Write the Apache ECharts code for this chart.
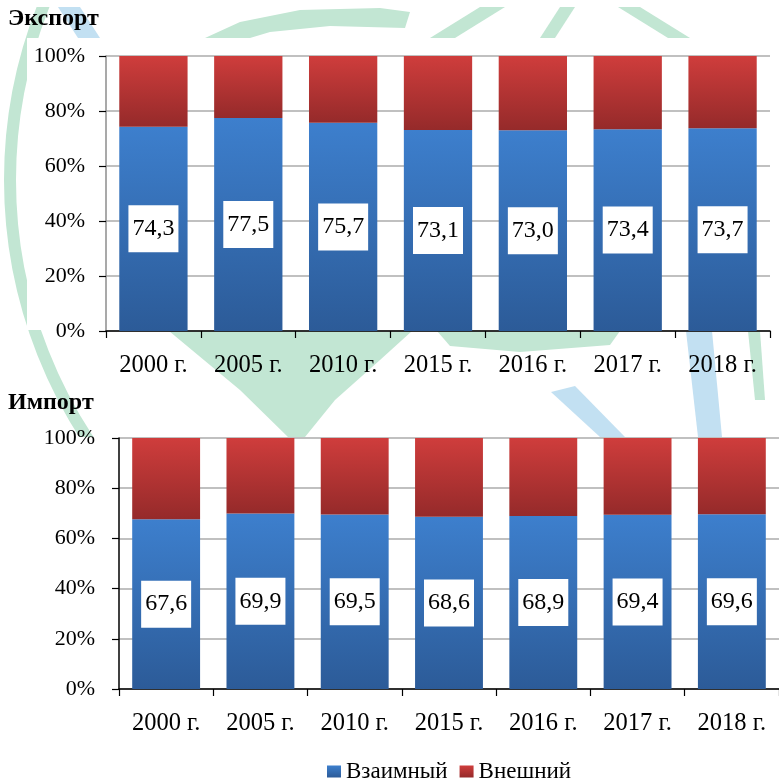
<!DOCTYPE html>
<html>
<head>
<meta charset="utf-8">
<script src="https://cdn.jsdelivr.net/npm/echarts@6/dist/echarts.min.js"></script>
<style>
  html, body { margin: 0; padding: 0; background: #ffffff; }
  #chart { width: 779px; height: 779px; }
</style>
</head>
<body>
<div id="chart"></div>
<script>
// Годы
const categories = ['2000 г.', '2005 г.', '2010 г.', '2015 г.', '2016 г.', '2017 г.', '2018 г.'];

// Экспорт: доля взаимной и внешней торговли, %
const exportMutual   = [74.3, 77.5, 75.7, 73.1, 73.0, 73.4, 73.7];
const exportExternal = [25.7, 22.5, 24.3, 26.9, 27.0, 26.6, 26.3];

// Импорт: доля взаимной и внешней торговли, %
const importMutual   = [67.6, 69.9, 69.5, 68.6, 68.9, 69.4, 69.6];
const importExternal = [32.4, 30.1, 30.5, 31.4, 31.1, 30.6, 30.4];

const yTicks = [0, 20, 40, 60, 80, 100];

const FONT = 'Liberation Serif, Times New Roman, serif';

const blueFill = new echarts.graphic.LinearGradient(0, 0, 0, 1, [
  { offset: 0, color: '#3d7fcd' },
  { offset: 1, color: '#2c5b98' }
]);
const redFill = new echarts.graphic.LinearGradient(0, 0, 0, 1, [
  { offset: 0, color: '#cf3d3c' },
  { offset: 1, color: '#952a2a' }
]);

function yAxisFor(gridIndex, lineColor, margin) {
  return {
    type: 'value', gridIndex: gridIndex,
    min: yTicks[0], max: yTicks[yTicks.length - 1], interval: 20,
    axisLine: { show: true, lineStyle: { color: lineColor, width: 1.5 } },
    axisTick: { show: true, length: 7, lineStyle: { color: '#000', width: 1.2 } },
    splitLine: { show: true, lineStyle: { color: '#ababab', width: 1.5 } },
    axisLabel: { formatter: '{value}%', color: '#000', fontFamily: FONT, fontSize: 22, margin: margin }
  };
}

function xAxisFor(gridIndex) {
  return {
    type: 'category', gridIndex: gridIndex, data: categories,
    axisLine: { show: true, lineStyle: { color: '#000', width: 1.5 } },
    axisTick: { show: true, length: 7, lineStyle: { color: '#000', width: 1.2 } },
    axisLabel: { color: '#000', fontFamily: FONT, fontSize: 24.5, margin: 22 }
  };
}

const valueLabel = {
  show: true,
  position: 'inside',
  color: '#000',
  fontFamily: FONT,
  fontSize: 24,
  lineHeight: 24,
  backgroundColor: '#ffffff',
  padding: [11, 4, 12, 4],
  formatter: p => p.value.toFixed(1).replace('.', ',')
};

function bars(name, data, fill, axisIdx, withLabel) {
  return {
    name: name, type: 'bar', stack: 'total' + axisIdx,
    xAxisIndex: axisIdx, yAxisIndex: axisIdx,
    data: data, barCategoryGap: '28%',
    itemStyle: { color: fill },
    label: withLabel ? valueLabel : { show: false },
    emphasis: { disabled: true }
  };
}

// Светлая эмблема-подложка за диаграммами
const GREEN = '#c2e6d3';
const BLUE = '#c2e0f2';
function poly(points, fill) {
  return { type: 'polygon', z: -20, silent: true, shape: { points: points }, style: { fill: fill } };
}
const backdrop = [
  { type: 'circle', z: -20, silent: true, shape: { cx: 480, cy: 180, r: 470 },
    style: { fill: 'none', stroke: GREEN, lineWidth: 12 } },
  poly([[58, 7], [80, 7], [100, 38], [78, 38]], BLUE),
  poly([[205, 38], [240, 22], [300, 10], [380, 8], [410, 12], [405, 28], [330, 26], [270, 32], [250, 38]], GREEN),
  poly([[430, 38], [455, 38], [505, 7], [480, 7]], GREEN),
  poly([[540, 38], [555, 38], [575, 7], [560, 7]], GREEN),
  poly([[618, 7], [640, 7], [690, 38], [668, 38]], GREEN),
  poly([[169, 331], [412, 331], [380, 360], [335, 400], [305, 437], [288, 437], [240, 390]], GREEN),
  poly([[437, 331], [620, 331], [610, 345], [520, 352], [450, 346]], GREEN),
  poly([[551, 392], [575, 386], [625, 437], [600, 437]], BLUE),
  poly([[686, 331], [712, 331], [722, 437], [698, 437]], BLUE),
  poly([[748, 331], [760, 331], [765, 400], [755, 400]], GREEN),
  // белые поля под областями построения
  { type: 'rect', z: -10, silent: true, shape: { x: 0, y: 0, width: 779, height: 7 }, style: { fill: '#fff' } },
  { type: 'rect', z: -10, silent: true, shape: { x: 27, y: 38, width: 752, height: 292 }, style: { fill: '#fff' } },
  { type: 'rect', z: -10, silent: true, shape: { x: 0, y: 437, width: 779, height: 342 }, style: { fill: '#fff' } }
];

const chart = echarts.init(document.getElementById('chart'), null, { renderer: 'canvas' });
chart.setOption({
  animation: false,
  backgroundColor: '#ffffff',
  graphic: { elements: backdrop },
  title: [
    { text: 'Экспорт', left: 8, top: 7, padding: 0,
      textStyle: { fontFamily: FONT, fontSize: 24, fontWeight: 'bold', color: '#000' } },
    { text: 'Импорт', left: 8, top: 391, padding: 0,
      textStyle: { fontFamily: FONT, fontSize: 24, fontWeight: 'bold', color: '#000' } }
  ],
  legend: {
    data: ['Взаимный', 'Внешний'],
    left: 322, top: 755,
    icon: 'rect', itemWidth: 14, itemHeight: 12, itemGap: 12,
    textStyle: { fontFamily: FONT, fontSize: 23, color: '#000' }
  },
  grid: [
    { left: 106, right: 9, top: 56, bottom: 448 },
    { left: 119, right: -3, top: 438, bottom: 90 }
  ],
  xAxis: [xAxisFor(0), xAxisFor(1)],
  yAxis: [yAxisFor(0, '#8c8c8c', 21), yAxisFor(1, '#000', 24)],
  series: [
    bars('Взаимный', exportMutual, blueFill, 0, true),
    bars('Внешний', exportExternal, redFill, 0, false),
    bars('Взаимный', importMutual, blueFill, 1, true),
    bars('Внешний', importExternal, redFill, 1, false)
  ]
});
</script>
</body>
</html>
